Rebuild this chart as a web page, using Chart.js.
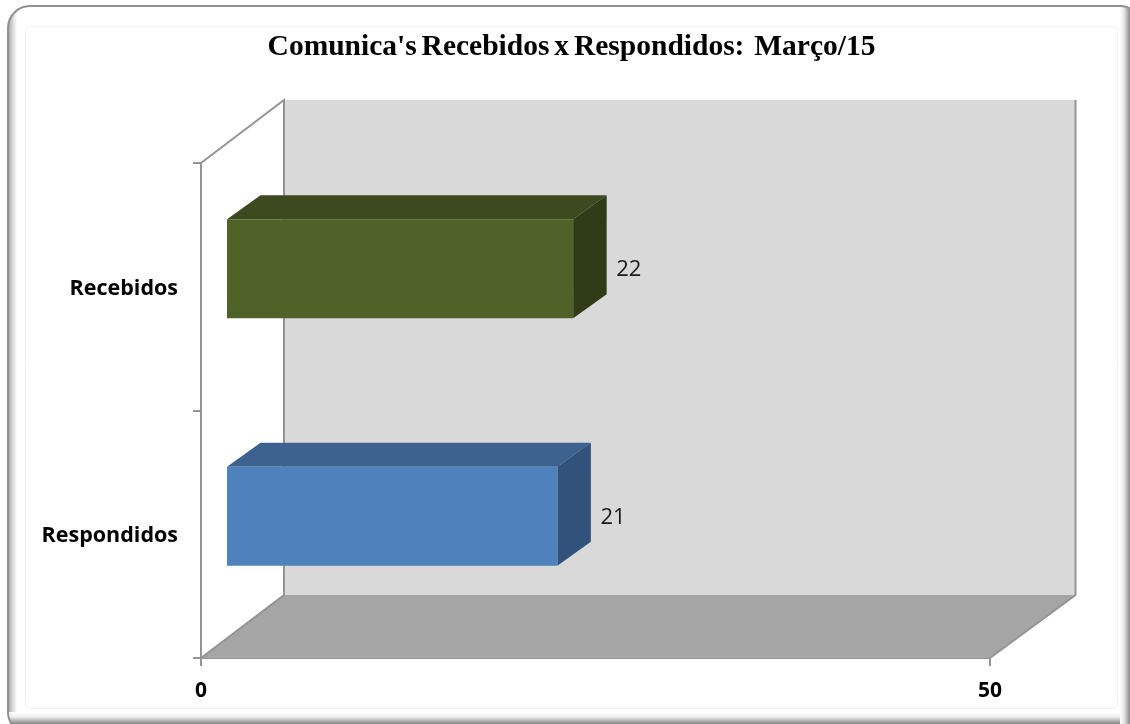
<!DOCTYPE html>
<html><head><meta charset="utf-8">
<style>html,body{margin:0;padding:0;background:#fff}canvas{display:block}</style>
<script src="https://cdn.jsdelivr.net/npm/chart.js@4/dist/chart.umd.min.js"></script>
</head><body><canvas id="c" width="1130" height="724"></canvas>
<script>
const titleText = "Comunica's Recebidos x Respondidos:  Março/15";
const categories = ['Recebidos', 'Respondidos'];
const values = [22, 21];
const frontColors = ['#4F6228', '#4F81BD'];
const topColors = ['#3D4A20', '#3D6290'];
const sideColors = ['#303C17', '#31527B'];
const axisMin = 0, axisMax = 50;

const WALL = {dxL: 83, dxR: 85.5, dy: -63};
const SHIFT = {dx: 25, dy: -18};
const BAR = {dx: 33.5, dy: -24};
const LINE = '#949494';

function poly(ctx, pts, fill) {
  ctx.beginPath();
  pts.forEach((p, i) => i ? ctx.lineTo(p[0], p[1]) : ctx.moveTo(p[0], p[1]));
  ctx.closePath();
  ctx.fillStyle = fill;
  ctx.fill();
}

const frame = {
  id: 'frame',
  beforeDraw(chart) {
    const ctx = chart.ctx, W = chart.width, H = chart.height;
    ctx.save();
    ctx.fillStyle = '#fff';
    ctx.fillRect(0, 0, W, H);
    ctx.save();
    ctx.beginPath();
    ctx.roundRect(8, 6, W + 4, H + 4, 22);
    ctx.clip();
    let g = ctx.createLinearGradient(8, 0, 17, 0);
    g.addColorStop(0, '#9a9a9a'); g.addColorStop(0.3, '#c4c4c4'); g.addColorStop(1, '#fff');
    ctx.fillStyle = g; ctx.fillRect(8, 0, 10, H);
    g = ctx.createLinearGradient(0, 712, 0, 724);
    g.addColorStop(0, '#fff'); g.addColorStop(0.4, '#eee'); g.addColorStop(1, '#858585');
    ctx.fillStyle = g; ctx.fillRect(0, 712, W, 12);
    g = ctx.createLinearGradient(1120, 0, 1130, 0);
    g.addColorStop(0, '#fff'); g.addColorStop(0.4, '#e6e6e6'); g.addColorStop(1, '#8a8a8a');
    ctx.fillStyle = g; ctx.fillRect(1120, 0, 10, H);
    ctx.restore();
    ctx.beginPath();
    ctx.roundRect(8, 6, W + 4, H + 4, 22);
    ctx.strokeStyle = '#909090';
    ctx.lineWidth = 2;
    ctx.stroke();
    ctx.beginPath();
    ctx.roundRect(25.5, 26.5, 1092, 682, 5);
    ctx.strokeStyle = '#f1f1f1';
    ctx.lineWidth = 1;
    ctx.stroke();
    ctx.fillStyle = '#000';
    ctx.font = 'bold 29.5px "Liberation Serif"';
    ctx.wordSpacing = '-2.5px';
    ctx.textAlign = 'center';
    ctx.textBaseline = 'middle';
    ctx.fillText(titleText, 571.5, 47);
    ctx.restore();
  },
  beforeDatasetsDraw(chart) {
    const ctx = chart.ctx, a = chart.chartArea;
    const backL = a.left + WALL.dxL, backR = a.right + WALL.dxR;
    const backT = a.top + WALL.dy, backB = a.bottom + WALL.dy;
    ctx.save();
    // back wall
    ctx.fillStyle = '#D9D9D9';
    ctx.fillRect(backL, backT, backR - backL, backB - backT);
    // floor
    poly(ctx, [[a.left, a.bottom], [backL, backB], [backR, backB], [a.right, a.bottom]], '#A5A5A5');
    // wall edges
    ctx.strokeStyle = LINE;
    ctx.lineWidth = 2;
    ctx.beginPath();
    ctx.moveTo(a.left, a.top); ctx.lineTo(backL, backT); ctx.lineTo(backL, backB); ctx.lineTo(a.left, a.bottom);
    ctx.moveTo(backR, backT); ctx.lineTo(backR, backB); ctx.lineTo(a.right, a.bottom);
    ctx.stroke();
    // bar depth faces, from the library's bar geometry
    const bars = chart.getDatasetMeta(0).data;
    bars.forEach((b, i) => {
      const x0 = b.base + SHIFT.dx, x1 = b.x + SHIFT.dx;
      const t = b.y - b.height / 2 + SHIFT.dy, btm = b.y + b.height / 2 + SHIFT.dy;
      poly(ctx, [[x0, t], [x0 + BAR.dx, t + BAR.dy], [x1 + BAR.dx, t + BAR.dy], [x1, t]], topColors[i]);
      poly(ctx, [[x1, t], [x1 + BAR.dx, t + BAR.dy], [x1 + BAR.dx, btm + BAR.dy], [x1, btm]], sideColors[i]);
    });
    ctx.restore();
    ctx.save();
    ctx.translate(SHIFT.dx, SHIFT.dy);
  },
  afterDatasetsDraw(chart) {
    const ctx = chart.ctx;
    ctx.restore();
    ctx.save();
    ctx.fillStyle = '#1a1a1a';
    ctx.font = '22px "Open Sans"';
    ctx.textAlign = 'left';
    ctx.textBaseline = 'middle';
    chart.getDatasetMeta(0).data.forEach((b, i) => {
      ctx.fillText(String(values[i]), b.x + SHIFT.dx + 43, b.y + SHIFT.dy + 1);
    });
    ctx.restore();
  }
};

new Chart(document.getElementById('c'), {
  type: 'bar',
  data: {
    labels: categories,
    datasets: [{
      data: values,
      backgroundColor: frontColors,
      barPercentage: 0.4,
      categoryPercentage: 1,
      borderWidth: 0,
      clip: false
    }]
  },
  plugins: [frame],
  options: {
    indexAxis: 'y',
    responsive: false,
    animation: false,
    layout: {padding: {left: 0, right: 140, top: 163, bottom: 0}},
    plugins: {legend: {display: false}, title: {display: false}, tooltip: {enabled: false}},
    scales: {
      x: {
        min: axisMin, max: axisMax,
        afterFit(s) { s.height = 66; },
        ticks: {stepSize: 50, maxRotation: 0, padding: 12, color: '#000', font: {family: '"Open Sans"', size: 21, weight: 'bold'}},
        grid: {drawOnChartArea: false, tickLength: 8, color: LINE, lineWidth: 2},
        border: {color: LINE, width: 2}
      },
      y: {
        afterFit(s) { s.width = 201; },
        ticks: {padding: 15, labelOffset: 2, color: '#000', font: {family: '"Open Sans"', size: 21.5, weight: 'bold'}},
        grid: {drawOnChartArea: false, tickLength: 8, color: LINE, lineWidth: 2, offset: true},
        border: {color: LINE, width: 2}
      }
    }
  }
});
</script></body></html>
